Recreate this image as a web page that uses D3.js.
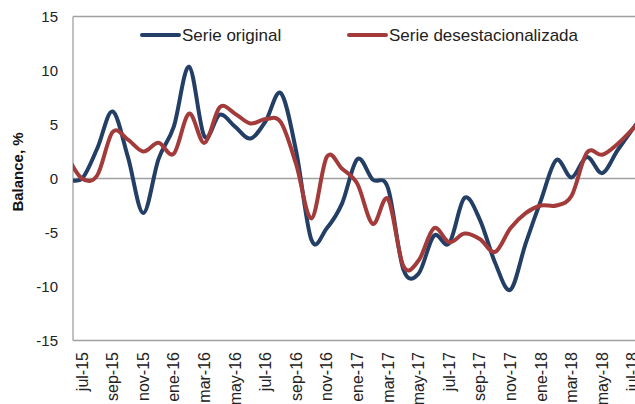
<!DOCTYPE html>
<html>
<head>
<meta charset="utf-8">
<script src="https://cdn.jsdelivr.net/npm/d3@7"></script>
<style>
  body { margin: 0; background: #fff; }
  svg { display: block; font-family: "Liberation Sans", Arial, sans-serif; }
</style>
</head>
<body>
<div id="chart"></div>
<script>
// months shown (jun-15 and ago-18 sit just outside the visible plot)
const months = ["jun-15", "jul-15", "ago-15", "sep-15", "oct-15", "nov-15", "dic-15",
    "ene-16", "feb-16", "mar-16", "abr-16", "may-16", "jun-16", "jul-16", "ago-16", "sep-16", "oct-16", "nov-16", "dic-16",
    "ene-17", "feb-17", "mar-17", "abr-17", "may-17", "jun-17", "jul-17", "ago-17", "sep-17", "oct-17", "nov-17", "dic-17",
    "ene-18", "feb-18", "mar-18", "abr-18", "may-18", "jun-18", "jul-18", "ago-18"];

const serieOriginal = [0.0, 0.0, 2.8, 6.2, 2.0, -3.2, 1.8,
    4.8, 10.35, 3.9, 5.9, 4.8, 3.7, 5.3, 7.9, 2.5, -5.7, -4.6, -2.3,
    1.8, -0.1, -0.9, -8.4, -8.8, -5.3, -6.0, -1.8, -3.8, -7.8, -10.3, -6.0,
    -2.0, 1.7, 0.1, 2.0, 0.5, 2.6, 4.6, 6.5];

const serieDesest = [2.2, 0.0, 0.3, 4.3, 3.6, 2.5, 3.3,
    2.3, 6.0, 3.3, 6.6, 6.0, 5.1, 5.5, 5.2, 1.3, -3.7, 2.0, 0.9,
    -0.5, -4.2, -1.9, -8.1, -7.6, -4.6, -5.9, -5.1, -5.6, -6.8, -4.6, -3.2,
    -2.5, -2.5, -1.6, 2.4, 2.2, 3.2, 4.6, 6.0];

const tickLabels = ["jul-15", "sep-15", "nov-15", "ene-16", "mar-16", "may-16", "jul-16", "sep-16", "nov-16",
    "ene-17", "mar-17", "may-17", "jul-17", "sep-17", "nov-17", "ene-18", "mar-18", "may-18", "jul-18"];

const yTicks = [-15, -10, -5, 0, 5, 10, 15];

const series = [
    { name: "Serie original", values: serieOriginal, color: "#243f66" },
    { name: "Serie desestacionalizada", values: serieDesest, color: "#a33b3b" }
];

const W = 635, H = 404;
const plot = { left: 73, top: 16.5, right: 640, bottom: 340.5 };
const step = 15.3;
const firstX = 82 - step;

const svg = d3.select("#chart").append("svg")
    .attr("width", W)
    .attr("height", H);

const x = d3.scalePoint()
    .domain(months)
    .range([firstX, firstX + step * (months.length - 1)]);

const y = d3.scaleLinear()
    .domain([-15, 15])
    .range([plot.bottom, plot.top]);

svg.append("defs").append("clipPath")
    .attr("id", "clip")
    .append("rect")
    .attr("x", plot.left)
    .attr("y", plot.top - 2)
    .attr("width", plot.right - plot.left)
    .attr("height", plot.bottom - plot.top + 4);

const gridColor = "#a0a0a0";

// top border and zero line
svg.selectAll(".grid")
    .data([15, 0])
    .join("line")
    .attr("class", "grid")
    .attr("x1", plot.left)
    .attr("x2", W)
    .attr("y1", d => y(d))
    .attr("y2", d => y(d))
    .attr("stroke", gridColor)
    .attr("stroke-width", 1.3);

// left axis and bottom axis
svg.append("line")
    .attr("x1", plot.left).attr("x2", plot.left)
    .attr("y1", plot.top).attr("y2", plot.bottom)
    .attr("stroke", gridColor).attr("stroke-width", 1.3);
svg.append("line")
    .attr("x1", plot.left).attr("x2", W)
    .attr("y1", plot.bottom).attr("y2", plot.bottom)
    .attr("stroke", gridColor).attr("stroke-width", 1.3);

// y tick labels
svg.selectAll(".ytick")
    .data(yTicks)
    .join("text")
    .attr("class", "ytick")
    .attr("x", 58)
    .attr("y", d => y(d))
    .attr("dy", "0.35em")
    .attr("text-anchor", "end")
    .attr("font-size", 15)
    .attr("fill", "#222")
    .text(d => d);

// x tick labels, rotated
svg.selectAll(".xtick")
    .data(tickLabels)
    .join("text")
    .attr("class", "xtick")
    .attr("transform", d => `translate(${x(d)}, ${plot.bottom + 11.5}) rotate(-90)`)
    .attr("dy", "0.35em")
    .attr("text-anchor", "end")
    .attr("font-size", 16)
    .attr("fill", "#222")
    .text(d => d);

// y axis title
svg.append("text")
    .attr("transform", `translate(18, 172) rotate(-90)`)
    .attr("dy", "0.35em")
    .attr("text-anchor", "middle")
    .attr("font-size", 15)
    .attr("font-weight", "bold")
    .attr("fill", "#111")
    .text("Balance, %");

const line = d3.line()
    .x((_, i) => x(months[i]))
    .y(d => y(d))
    .curve(d3.curveCardinal.tension(0));

svg.append("g")
    .attr("clip-path", "url(#clip)")
    .selectAll("path")
    .data(series)
    .join("path")
    .attr("fill", "none")
    .attr("stroke", d => d.color)
    .attr("stroke-width", 4)
    .attr("stroke-linejoin", "round")
    .attr("d", d => line(d.values));

// legend
const legendX = [142, 349];
const legend = svg.selectAll(".legend")
    .data(series)
    .join("g")
    .attr("class", "legend")
    .attr("transform", (_, i) => `translate(${legendX[i]}, 35)`);

legend.append("line")
    .attr("x1", 0).attr("x2", 37)
    .attr("stroke", d => d.color)
    .attr("stroke-width", 4)
    .attr("stroke-linecap", "round");

legend.append("text")
    .attr("x", 40)
    .attr("dy", "0.35em")
    .attr("font-size", 17)
    .attr("fill", "#222")
    .text(d => d.name);
</script>
</body>
</html>
